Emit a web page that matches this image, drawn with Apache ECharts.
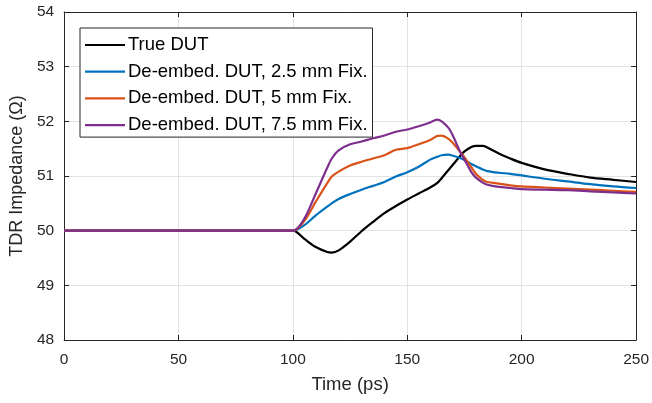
<!DOCTYPE html>
<html>
<head>
<meta charset="utf-8">
<script src="https://cdn.jsdelivr.net/npm/echarts@6/dist/echarts.min.js"></script>
<style>
  html, body { margin: 0; padding: 0; background: #fff; }
  #chart { width: 652px; height: 403px; }
</style>
</head>
<body>
<div id="chart"></div>
<script>
// Sample times (ps) shared by all traces
const timePs = [0, 100, 105, 110, 115, 117, 120, 125, 130, 135, 140, 145, 150, 155, 160, 163, 165, 168, 170, 173, 175, 178, 180, 183, 185, 190, 195, 200, 210, 220, 230, 240, 250];

// TDR impedance (ohm) for each trace
const trueDut = [50, 50, 49.85, 49.70, 49.61, 49.60, 49.64, 49.80, 49.99, 50.16, 50.32, 50.45, 50.57, 50.68, 50.79, 50.87, 50.96, 51.11, 51.21, 51.36, 51.45, 51.53, 51.55, 51.55, 51.52, 51.41, 51.32, 51.24, 51.12, 51.04, 50.97, 50.93, 50.89];
const fix25 = [50, 50, 50.10, 50.28, 50.44, 50.50, 50.58, 50.67, 50.75, 50.82, 50.89, 50.99, 51.07, 51.17, 51.30, 51.35, 51.38, 51.39, 51.37, 51.33, 51.29, 51.22, 51.18, 51.12, 51.09, 51.06, 51.04, 51.01, 50.95, 50.90, 50.85, 50.81, 50.78];
const fix5 = [50, 50, 50.18, 50.53, 50.87, 50.99, 51.08, 51.19, 51.26, 51.32, 51.38, 51.48, 51.51, 51.58, 51.66, 51.73, 51.74, 51.68, 51.60, 51.45, 51.34, 51.16, 51.04, 50.93, 50.89, 50.86, 50.83, 50.81, 50.79, 50.77, 50.75, 50.73, 50.71];
const fix75 = [50, 50, 50.22, 50.68, 51.15, 51.32, 51.47, 51.58, 51.63, 51.69, 51.74, 51.81, 51.85, 51.91, 51.98, 52.03, 52.00, 51.88, 51.73, 51.45, 51.30, 51.07, 50.97, 50.88, 50.84, 50.80, 50.78, 50.76, 50.75, 50.74, 50.72, 50.70, 50.68];

const seriesNames = ['True DUT', 'De-embed. DUT, 2.5 mm Fix.', 'De-embed. DUT, 5 mm Fix.', 'De-embed. DUT, 7.5 mm Fix.'];
const seriesValues = [trueDut, fix25, fix5, fix75];
const seriesColors = ['#000000', '#0072BD', '#D95319', '#7E2F8E'];

const xTicks = [0, 50, 100, 150, 200, 250];
const yTicks = [48, 49, 50, 51, 52, 53, 54];

const font = 'Liberation Sans, Arial, Helvetica, sans-serif';
const axisColor = '#262626';

const chart = echarts.init(document.getElementById('chart'), null, { renderer: 'canvas' });

// Plain framing axis (box outline with inward ticks, no labels)
const framedAxis = (extra) => Object.assign({
  type: 'value',
  axisLine: { show: true, onZero: false, lineStyle: { color: axisColor, width: 1 } },
  axisTick: { show: true, inside: true, length: 5, lineStyle: { color: axisColor } },
  axisLabel: { show: false },
  splitLine: { show: false }
}, extra);

chart.setOption({
  backgroundColor: '#ffffff',
  animation: false,
  grid: { left: 63, top: 12, right: 15, bottom: 63, containLabel: false },
  legend: {
    left: 80, top: 28,
    orient: 'vertical',
    data: seriesNames,
    icon: 'rect',
    itemWidth: 40, itemHeight: 2.2, itemGap: 6.7,
    padding: [7, 5, 2, 5],
    backgroundColor: '#ffffff',
    borderColor: axisColor, borderWidth: 1, borderRadius: 0,
    textStyle: { fontFamily: font, fontSize: 18.5, lineHeight: 20, color: '#000', padding: [0, 0, 0, -2] }
  },
  xAxis: [
    framedAxis({
      min: xTicks[0], max: xTicks[xTicks.length - 1], interval: 50,
      position: 'bottom',
      name: 'Time (ps)', nameLocation: 'middle', nameGap: 35,
      nameTextStyle: { fontFamily: font, fontSize: 18.5, color: axisColor },
      axisLabel: { show: true, fontFamily: font, fontSize: 15.5, color: axisColor, margin: 12 },
      splitLine: { show: true, lineStyle: { color: '#e3e3e3', width: 1 } }
    }),
    framedAxis({ min: xTicks[0], max: xTicks[xTicks.length - 1], interval: 50, position: 'top' })
  ],
  yAxis: [
    framedAxis({
      min: yTicks[0], max: yTicks[yTicks.length - 1], interval: 1,
      position: 'left',
      name: 'TDR Impedance (\u03A9)', nameLocation: 'middle', nameGap: 37,
      nameTextStyle: { fontFamily: font, fontSize: 18, color: axisColor },
      axisLabel: { show: true, fontFamily: font, fontSize: 15.5, color: axisColor, margin: 10 },
      splitLine: { show: true, lineStyle: { color: '#e3e3e3', width: 1 } }
    }),
    framedAxis({ min: yTicks[0], max: yTicks[yTicks.length - 1], interval: 1, position: 'right' })
  ],
  series: seriesNames.map((name, i) => ({
    name: name,
    type: 'line',
    xAxisIndex: 0,
    yAxisIndex: 0,
    showSymbol: false,
    symbol: 'none',
    smooth: 0.3,
    color: seriesColors[i],
    lineStyle: { color: seriesColors[i], width: 2.2 },
    data: timePs.map((t, k) => [t, seriesValues[i][k]])
  }))
});
</script>
</body>
</html>
